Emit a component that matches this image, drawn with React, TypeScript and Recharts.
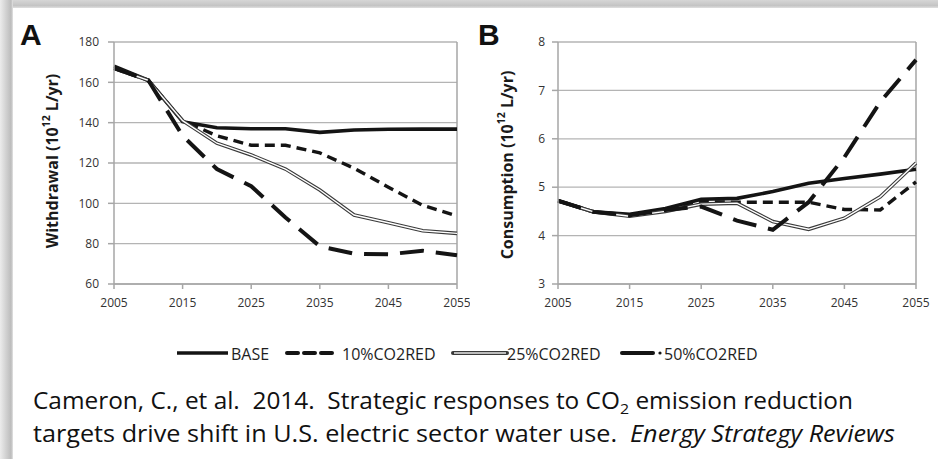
import React from 'react';
import { LineChart, Line, XAxis, YAxis, CartesianGrid, ReferenceLine } from 'recharts';

const years = [2005, 2010, 2015, 2020, 2025, 2030, 2035, 2040, 2045, 2050, 2055];
const xTicks = [2005, 2015, 2025, 2035, 2045, 2055];

const withdrawalBase = [168, 161, 140.5, 137.5, 137, 137, 135.2, 136.4, 136.7, 136.8, 136.8];
const withdrawal10 = [167, 161, 141, 133.5, 128.8, 128.8, 125, 117.4, 108, 99, 93.7];
const withdrawal25 = [167, 161, 141, 129.8, 124, 117, 106.6, 94.2, 90.4, 86.4, 85.1];
const withdrawal50 = [167, 161, 133.5, 117, 108.5, 93, 78.7, 75, 74.7, 76.5, 74.3];
const withdrawalTicks = [60, 80, 100, 120, 140, 160, 180];

const consumptionBase = [4.72, 4.49, 4.44, 4.56, 4.75, 4.77, 4.91, 5.08, 5.18, 5.27, 5.37];
const consumption10 = [4.72, 4.49, 4.42, 4.53, 4.7, 4.69, 4.69, 4.69, 4.54, 4.53, 5.11];
const consumption25 = [4.72, 4.49, 4.4, 4.5, 4.65, 4.67, 4.29, 4.13, 4.36, 4.8, 5.5];
const consumption50 = [4.72, 4.49, 4.42, 4.53, 4.6, 4.31, 4.12, 4.69, 5.62, 6.76, 7.63];
const consumptionTicks = [3, 4, 5, 6, 7, 8];

const seriesNames = ['BASE', '10%CO2RED', '25%CO2RED', '50%CO2RED'];

const withdrawalData = years.map((y, i) => ({
  year: y,
  base: withdrawalBase[i],
  r10: withdrawal10[i],
  r25: withdrawal25[i],
  r50: withdrawal50[i],
}));
const consumptionData = years.map((y, i) => ({
  year: y,
  base: consumptionBase[i],
  r10: consumption10[i],
  r25: consumption25[i],
  r50: consumption50[i],
}));

const FONT = "'Open Sans', sans-serif";
const GRID = '#b4b4b4';
const AXIS = '#a6a6a6';
const INK = '#141414';
const tickStyle = { fontSize: 12, fill: '#333333', fontFamily: FONT };

const AxisTitle = (props: any) => {
  const { viewBox, dxOff, cyAbs, text } = props;
  const cx = viewBox.x + dxOff;
  const cy = cyAbs;
  return (
    <text
      x={cx}
      y={cy}
      transform={`rotate(-90 ${cx} ${cy})`}
      textAnchor="middle"
      dominantBaseline="central"
      fontFamily={FONT}
      fontWeight={700}
      fontSize={16}
      fill="#1a1a1a"
    >
      {text} (10
      <tspan fontSize={10.5} dy={-6}>12</tspan>
      <tspan dy={6}> L/yr)</tspan>
    </text>
  );
};

function Panel(props: any) {
  const { data, ticks, domain, title, titleOff, titleCy, width, margin, tickMargin } = props;
  return (
    <LineChart width={width} height={330} data={data} margin={margin}>
      <CartesianGrid vertical={false} stroke={GRID} strokeWidth={1.3} />
      <XAxis
        dataKey="year"
        type="number"
        domain={[2005, 2055]}
        ticks={xTicks}
        tickSize={5}
        tickMargin={9}
        height={30}
        stroke={AXIS}
        axisLine={{ stroke: AXIS, strokeWidth: 1.5 }}
        tickLine={{ stroke: AXIS, strokeWidth: 1.5 }}
        tick={tickStyle}
        interval={0}
      />
      <YAxis
        type="number"
        domain={domain}
        ticks={ticks}
        width={40}
        tickSize={6}
        tickMargin={tickMargin}
        axisLine={{ stroke: AXIS, strokeWidth: 1.5 }}
        tickLine={{ stroke: AXIS, strokeWidth: 1.5 }}
        tick={tickStyle}
        interval={0}
        label={{ content: (p: any) => <AxisTitle {...p} text={title} dxOff={titleOff} cyAbs={titleCy} /> }}
      />
      <ReferenceLine x={2055} stroke={AXIS} strokeWidth={1.5} />
      <Line dataKey="base" stroke={INK} strokeWidth={3.6} dot={false} isAnimationActive={false} />
      <Line dataKey="r10" stroke={INK} strokeWidth={3.4} strokeDasharray="10 6" dot={false} isAnimationActive={false} />
      <Line dataKey="r25" stroke="#3a3a3a" strokeWidth={3.6} dot={false} isAnimationActive={false} />
      <Line dataKey="r25" stroke="#ffffff" strokeWidth={1.4} dot={false} isAnimationActive={false} />
      <Line dataKey="r50" stroke={INK} strokeWidth={4} strokeDasharray="24 12" dot={false} isAnimationActive={false} />
    </LineChart>
  );
}

function LegendBar() {
  const textY = 360;
  const midY = 353;
  const items = [
    { x0: 177, x1: 228, tx: 231, kind: 'solid' },
    { x0: 287, x1: 333, tx: 342, kind: 'dash' },
    { x0: 453, x1: 507, tx: 507, kind: 'double' },
    { x0: 622, x1: 653, tx: 664, kind: 'long' },
  ];
  return (
    <g>
      {items.map((it, i) => (
        <g key={seriesNames[i]}>
          {it.kind === 'solid' && <line x1={it.x0} x2={it.x1} y1={midY} y2={midY} stroke={INK} strokeWidth={3.6} />}
          {it.kind === 'dash' && (
            <line x1={it.x0} x2={it.x1} y1={midY} y2={midY} stroke={INK} strokeWidth={4} strokeDasharray="11 6" strokeLinecap="round" />
          )}
          {it.kind === 'double' && (
            <g>
              <line x1={it.x0} x2={it.x1} y1={midY} y2={midY} stroke="#3a3a3a" strokeWidth={4} strokeLinecap="round" />
              <line x1={it.x0 + 1} x2={it.x1 - 1} y1={midY} y2={midY} stroke="#e8e8e8" strokeWidth={1.6} />
            </g>
          )}
          {it.kind === 'long' && (
            <g>
              <line x1={it.x0} x2={it.x1} y1={midY} y2={midY} stroke={INK} strokeWidth={4} strokeLinecap="round" />
              <circle cx={660} cy={midY} r={1.6} fill={INK} />
            </g>
          )}
          <text x={it.tx} y={textY} fontFamily={FONT} fontSize={16} fill="#1e1e1e">
            {seriesNames[i]}
          </text>
        </g>
      ))}
    </g>
  );
}

export default function App() {
  return (
    <div
      style={{
        position: 'absolute',
        left: 0,
        top: 0,
        width: 938,
        height: 459,
        background: '#ffffff',
        overflow: 'hidden',
      }}
    >
      <div style={{ position: 'absolute', left: 0, top: 0, width: 938, height: 8, background: 'linear-gradient(#d6d6d6, #c4c4c4 70%, #e0e0e0)' }} />
      <div style={{ position: 'absolute', left: 0, top: 0, width: 13, height: 459, background: 'linear-gradient(90deg, #ececec, #d2d2d2 45%, #bcbcbc 85%, #e4e4e4)' }} />
      <div style={{ position: 'absolute', left: 0, top: 0 }}>
        <Panel
          data={withdrawalData}
          ticks={withdrawalTicks}
          domain={[60, 180]}
          title="Withdrawal"
          titleOff={-22.5}
          titleCy={161}
          width={470}
          margin={{ top: 42, right: 13, bottom: 16, left: 74 }}
          tickMargin={9}
        />
      </div>
      <div style={{ position: 'absolute', left: 460, top: 0 }}>
        <Panel
          data={consumptionData}
          ticks={consumptionTicks}
          domain={[3, 8]}
          title="Consumption"
          titleOff={-11.3}
          titleCy={165}
          width={478}
          margin={{ top: 42, right: 22, bottom: 16, left: 58 }}
          tickMargin={7}
        />
      </div>
      <svg width={938} height={459} style={{ position: 'absolute', left: 0, top: 0, pointerEvents: 'none' }}>
        <text x={20} y={45} fontFamily="'Liberation Sans', Arial, sans-serif" fontWeight={700} fontSize={30} fill="#111">A</text>
        <text x={478} y={45} fontFamily="'Liberation Sans', Arial, sans-serif" fontWeight={700} fontSize={30} fill="#111">B</text>
        <LegendBar />
        <text x={33} y={409} fontFamily={FONT} fontSize={23} fill="#111" textLength={820} lengthAdjust="spacingAndGlyphs" style={{ whiteSpace: 'pre' }}>
          {'Cameron, C., et al.  2014.  Strategic responses to CO'}
          <tspan fontSize={15} dy={5}>2</tspan>
          <tspan dy={-5}>{' emission reduction'}</tspan>
        </text>
        <text x={33} y={442} fontFamily={FONT} fontSize={23} fill="#111" textLength={862} lengthAdjust="spacingAndGlyphs" style={{ whiteSpace: 'pre' }}>
          {'targets drive shift in U.S. electric sector water use.  '}
          <tspan fontStyle="italic">Energy Strategy Reviews</tspan>
        </text>
      </svg>
    </div>
  );
}
